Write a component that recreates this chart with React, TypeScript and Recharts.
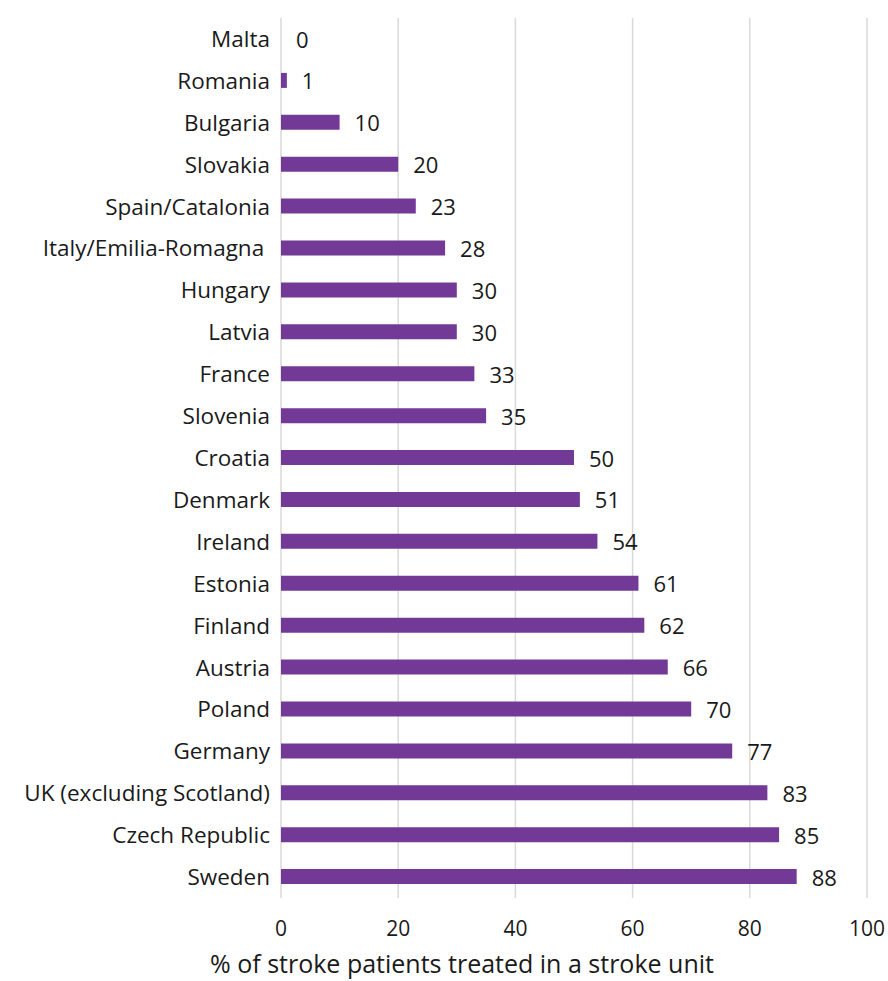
import { Bar, BarChart, CartesianGrid, Rectangle, XAxis, YAxis } from 'recharts';

const countries = [
  'Malta',
  'Romania',
  'Bulgaria',
  'Slovakia',
  'Spain/Catalonia',
  'Italy/Emilia-Romagna\u00a0',
  'Hungary',
  'Latvia',
  'France',
  'Slovenia',
  'Croatia',
  'Denmark',
  'Ireland',
  'Estonia',
  'Finland',
  'Austria',
  'Poland',
  'Germany',
  'UK (excluding Scotland)',
  'Czech Republic',
  'Sweden',
];

const shares = [0, 1, 10, 20, 23, 28, 30, 30, 33, 35, 50, 51, 54, 61, 62, 66, 70, 77, 83, 85, 88];

const xTicks = [0, 20, 40, 60, 80, 100];

const axisTitle = '% of stroke patients treated in a stroke unit';

const FONT = '"Open Sans", sans-serif';

// bar plus its value label, so a zero-width bar still gets its "0"
function BarWithValue(props: any) {
  const { x, y, width, height, value, fill } = props;
  const v = Array.isArray(value) ? value[1] - value[0] : value;
  return (
    <g>
      {width > 0 ? <Rectangle x={x} y={y} width={width} height={height} fill={fill} /> : null}
      <text
        x={Number(x) + Number(width || 0) + 15}
        y={Number(y) + Number(height) / 2}
        dominantBaseline="central"
        fontSize={22}
        fill="#1a1a1a"
      >
        {v}
      </text>
    </g>
  );
}

export default function App() {
  const data = countries.map((name, i) => ({ name, value: shares[i] }));

  return (
    <div style={{ position: 'absolute', left: 0, top: 0, width: 888, height: 981, background: '#fff' }}>
      <BarChart
        width={888}
        height={981}
        layout="vertical"
        data={data}
        margin={{ top: 18, right: 21, left: 0, bottom: 23 }}
        style={{ fontFamily: FONT }}
      >
        <CartesianGrid horizontal={false} stroke="#d9d9d9" strokeWidth={1.5} />
        <XAxis
          type="number"
          domain={[0, 100]}
          ticks={xTicks}
          axisLine={false}
          tickLine={false}
          tickSize={0}
          tickMargin={23}
          height={60}
          tick={{ fontSize: 21, fill: '#1a1a1a' }}
          label={() => (
            <text x={462} y={973} textAnchor="middle" fontSize={25} fill="#1a1a1a">
              {axisTitle}
            </text>
          )}
        />
        <YAxis
          type="category"
          dataKey="name"
          width={281}
          axisLine={false}
          tickLine={false}
          tickSize={0}
          tickMargin={11}
          interval={0}
          tick={{ fontSize: 22.5, fill: '#1a1a1a' }}
        />
        <Bar dataKey="value" fill="#723a96" barSize={15} isAnimationActive={false} shape={<BarWithValue />} />
      </BarChart>
    </div>
  );
}
